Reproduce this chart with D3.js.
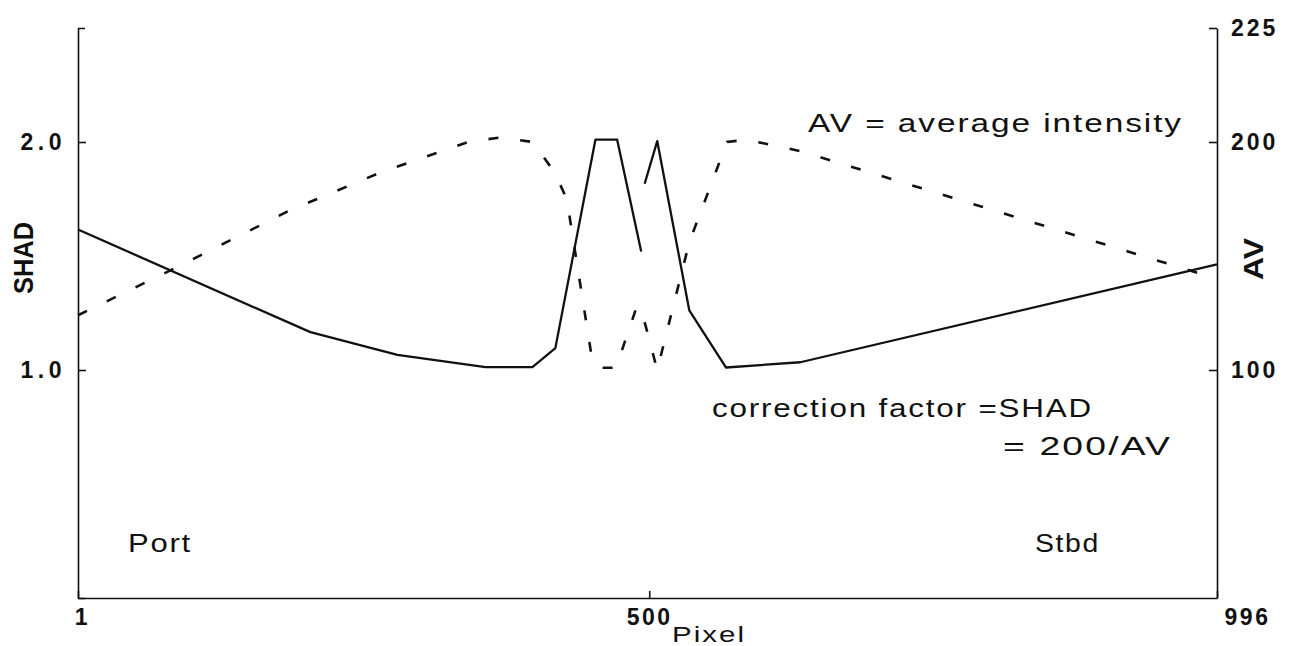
<!DOCTYPE html>
<html>
<head>
<meta charset="utf-8">
<script src="https://cdn.jsdelivr.net/npm/d3@7"></script>
<style>
  html, body { margin: 0; padding: 0; background: #fff; }
  svg { display: block; }
  text { font-family: "Liberation Sans", Arial, Helvetica, sans-serif; fill: #111; }
</style>
</head>
<body>
<svg id="chart" width="1291" height="646"></svg>
<script>
// ---- data ----
// Pixel positions / SHAD (correction factor), port half
const shadPortPixel = [1, 204, 280, 357, 398, 418, 453, 472, 493];
const shadPortValue = [1.616, 1.166, 1.066, 1.013, 1.013, 1.096, 2.01, 2.01, 1.52];
// Starboard half
const shadStbdPixel = [496, 507, 535, 567, 632, 996];
const shadStbdValue = [1.817, 2.004, 1.262, 1.011, 1.034, 1.463];

// AV (average intensity), port half
const avPortPixel = [1, 83, 186, 267, 342, 370, 398, 417, 428, 450, 456, 471, 494];
const avPortValue = [124, 144, 170, 187, 200, 202, 200, 187, 175, 105, 101, 101, 135];
// Starboard half
const avStbdPixel = [496, 507, 535, 568, 585, 632, 996];
const avStbdValue = [121, 100, 156, 200, 201, 196, 140];

// axes
const xDomain = [1, 996];
const xTickValues = [1, 500, 996];
const xTickLabels = ["1", "500", "996"];
const shadDomain = [0, 2.5];
const shadTickValues = [1.0, 2.0];
const shadTickLabels = ["1.0", "2.0"];
const avDomain = [0, 250];
const avTickValues = [100, 200, 250];
const avTickLabels = ["100", "200", "225"];

// ---- drawing ----
const svg = d3.select("#chart");
const mLeft = 78, mRight = 1217, mTop = 28, mBottom = 598;

const x = d3.scaleLinear().domain(xDomain).range([mLeft, mRight]);
const yL = d3.scaleLinear().domain(shadDomain).range([mBottom, mTop]);
const yR = d3.scaleLinear().domain(avDomain).range([mBottom, mTop]);

const tickFont = (ls) => g => g.selectAll("text")
  .attr("font-size", 23).attr("font-weight", "bold")
  .attr("letter-spacing", ls).attr("fill", "#111")
  .style("font-family", "'Liberation Sans', Arial, sans-serif");

const styleAxis = g => {
  g.select(".domain").attr("stroke", "#111").attr("stroke-width", 1.6);
  g.selectAll(".tick line").attr("stroke", "#111").attr("stroke-width", 1.6);
};

// left axis (SHAD)
svg.append("g")
  .attr("transform", `translate(${mLeft},0)`)
  .call(d3.axisLeft(yL).tickValues(shadTickValues)
    .tickFormat((d, i) => shadTickLabels[i])
    .tickSizeInner(-8).tickSizeOuter(-7).tickPadding(12))
  .call(styleAxis).call(tickFont(4.5));

// right axis (AV)
svg.append("g")
  .attr("transform", `translate(${mRight},0)`)
  .call(d3.axisRight(yR).tickValues(avTickValues)
    .tickFormat((d, i) => avTickLabels[i])
    .tickSizeInner(-8).tickSizeOuter(0).tickPadding(14))
  .call(styleAxis).call(tickFont(3));

// bottom axis (Pixel)
const xg = svg.append("g")
  .attr("transform", `translate(0,${mBottom})`)
  .call(d3.axisBottom(x).tickValues(xTickValues)
    .tickFormat((d, i) => xTickLabels[i])
    .tickSizeInner(-7).tickSizeOuter(0).tickPadding(11))
  .call(styleAxis).call(tickFont(2.5));
xg.selectAll(".tick text")
  .attr("dx", (d, i) => [4, 0, 30][i]);

// lines
const shadLine = d3.line().x(d => x(d[0])).y(d => yL(d[1]));
const avLine = d3.line().x(d => x(d[0])).y(d => yR(d[1]));

const zip = (a, b) => a.map((v, i) => [v, b[i]]);

[zip(shadPortPixel, shadPortValue), zip(shadStbdPixel, shadStbdValue)].forEach(seg => {
  svg.append("path").datum(seg)
    .attr("d", shadLine).attr("fill", "none")
    .attr("stroke", "#111").attr("stroke-width", 2.3)
    .attr("stroke-linejoin", "round");
});
[zip(avPortPixel, avPortValue), zip(avStbdPixel, avStbdValue)].forEach(seg => {
  svg.append("path").datum(seg)
    .attr("d", avLine).attr("fill", "none")
    .attr("stroke", "#111").attr("stroke-width", 2.6)
    .attr("stroke-dasharray", "10,22");
});

// axis titles
svg.append("text").text("SHAD")
  .attr("transform", "translate(33,258) rotate(-90)")
  .attr("x", -36).attr("textLength", 72).attr("lengthAdjust", "spacingAndGlyphs")
  .attr("font-size", 27).attr("font-weight", "bold");
svg.append("text").text("AV")
  .attr("transform", "translate(1263,259) rotate(-90)")
  .attr("x", -21).attr("textLength", 42).attr("lengthAdjust", "spacingAndGlyphs")
  .attr("font-size", 27).attr("font-weight", "bold");

// text helper: fit a label to the span measured in the reference
const note = (t, x0, y0, len, size) => svg.append("text").text(t)
  .attr("x", x0).attr("y", y0)
  .attr("font-size", size || 26)
  .attr("letter-spacing", 1.5)
  .attr("textLength", len).attr("lengthAdjust", "spacingAndGlyphs");

note("Pixel", 672, 642, 74, 22);
note("AV = average intensity", 808, 132, 375);
note("correction factor =SHAD", 712, 417, 381);
note("= 200/AV", 1003, 455, 169);
note("Port", 128, 552, 64);
note("Stbd", 1035, 552, 65);
</script>
</body>
</html>
